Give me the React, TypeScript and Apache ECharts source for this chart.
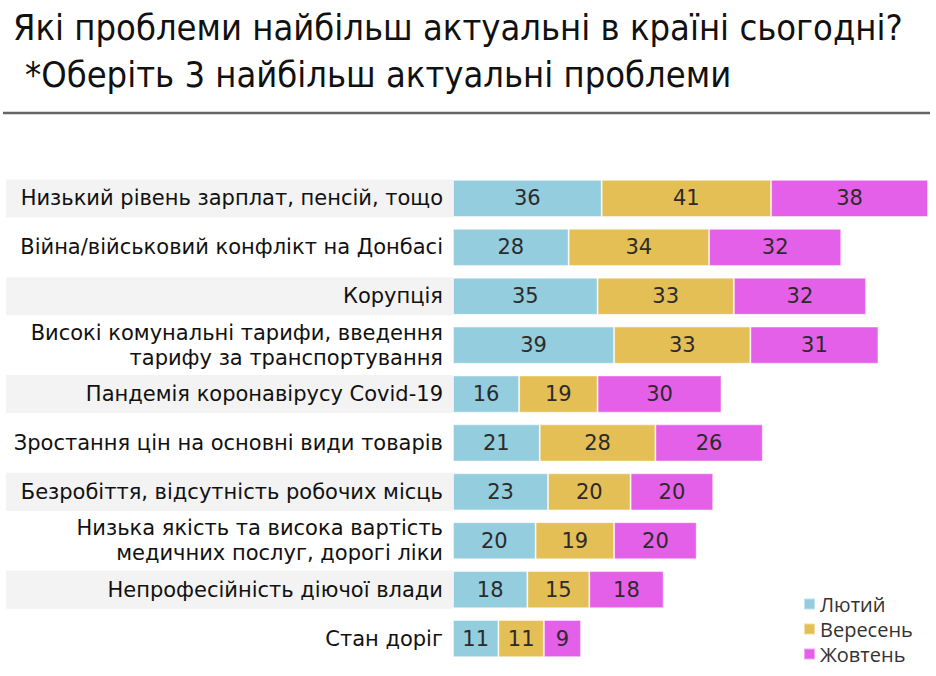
import React, { useEffect, useRef } from "react";
import * as echarts from "echarts";

const categories = [
  "Низький рівень зарплат, пенсій, тощо",
  "Війна/військовий конфлікт на Донбасі",
  "Корупція",
  "Високі комунальні тарифи, введення\nтарифу за транспортування",
  "Пандемія коронавірусу Covid-19",
  "Зростання цін на основні види товарів",
  "Безробіття, відсутність робочих місць",
  "Низька якість та висока вартість\nмедичних послуг, дорогі ліки",
  "Непрофесійність діючої влади",
  "Стан доріг",
];

const seriesNames = ["Лютий", "Вересень", "Жовтень"];
const february = [36, 28, 35, 39, 16, 21, 23, 20, 18, 11];
const september = [41, 34, 33, 33, 19, 28, 20, 19, 15, 11];
const october = [38, 32, 32, 31, 30, 26, 20, 20, 18, 9];
const shadedRows = [1, 0, 1, 0, 1, 0, 1, 0, 1, 0];

const colors = ["#94CDDE", "#E3BF55", "#E460E9"];

const titleLine1 = "Які проблеми найбільш актуальні в країні сьогодні?";
const titleLine2 = "*Оберіть 3 найбільш актуальні проблеми";

export default function App() {
  const ref = useRef<HTMLDivElement>(null);

  useEffect(() => {
    if (!ref.current) return;
    const chart = echarts.init(ref.current, undefined, { renderer: "svg" });
    const font = "DejaVu Sans";
    const values = [february, september, october];
    const titleStyle = {
      fontFamily: "DejaVu Sans Condensed",
      fontWeight: "normal",
      fontSize: 36,
      color: "#111111",
    };
    chart.setOption({
      animation: false,
      backgroundColor: "#ffffff",
      title: [
        { text: titleLine1, left: 8, top: 4, textStyle: titleStyle },
        { text: titleLine2, left: 20, top: 51, textStyle: titleStyle },
      ],
      graphic: [
        {
          type: "line",
          shape: { x1: 3, y1: 113, x2: 930, y2: 113 },
          style: { stroke: "#666666", lineWidth: 2.5 },
        },
      ],
      legend: {
        orient: "vertical",
        left: 798,
        top: 588,
        itemWidth: 11,
        itemHeight: 11,
        itemGap: 3,
        icon: "rect",
        data: seriesNames,
        textStyle: {
          fontFamily: "Open Sans",
          fontSize: 20,
          color: "#333333",
          lineHeight: 22,
        },
      },
      grid: [
        { left: 453, right: 8, top: 174, height: 489 },
        { left: 6, width: 447, top: 174, height: 489 },
      ],
      xAxis: [
        { type: "value", gridIndex: 0, min: 0, max: 115, show: false },
        { type: "value", gridIndex: 1, min: 0, max: 1, show: false },
      ],
      yAxis: [
        {
          type: "category",
          gridIndex: 0,
          inverse: true,
          data: categories,
          axisLine: { show: false },
          axisTick: { show: false },
          axisLabel: {
            margin: 10,
            fontFamily: font,
            fontSize: 21,
            lineHeight: 25,
            color: "#111111",
            align: "right",
          },
        },
        {
          type: "category",
          gridIndex: 1,
          inverse: true,
          data: categories,
          show: false,
        },
      ],
      series: [
        {
          type: "bar",
          name: "band",
          xAxisIndex: 1,
          yAxisIndex: 1,
          data: shadedRows.map((v) => (v ? 1 : "-")),
          barCategoryGap: "22%",
          itemStyle: { color: "#F3F3F3" },
          silent: true,
          z: 0,
        },
        ...seriesNames.map((name, i) => ({
          type: "bar",
          name,
          stack: "total",
          xAxisIndex: 0,
          yAxisIndex: 0,
          data: values[i],
          barCategoryGap: "24%",
          itemStyle: {
            color: colors[i],
            borderColor: "rgba(255,255,255,0.45)",
            borderWidth: 1,
          },
          label: {
            show: true,
            position: "inside",
            fontFamily: font,
            fontSize: 21,
            color: "#2b2b2b",
          },
          z: 2,
        })),
      ],
    });
    return () => chart.dispose();
  }, []);

  return (
    <div
      ref={ref}
      style={{ position: "fixed", left: 0, top: 0, width: 936, height: 676 }}
    />
  );
}
